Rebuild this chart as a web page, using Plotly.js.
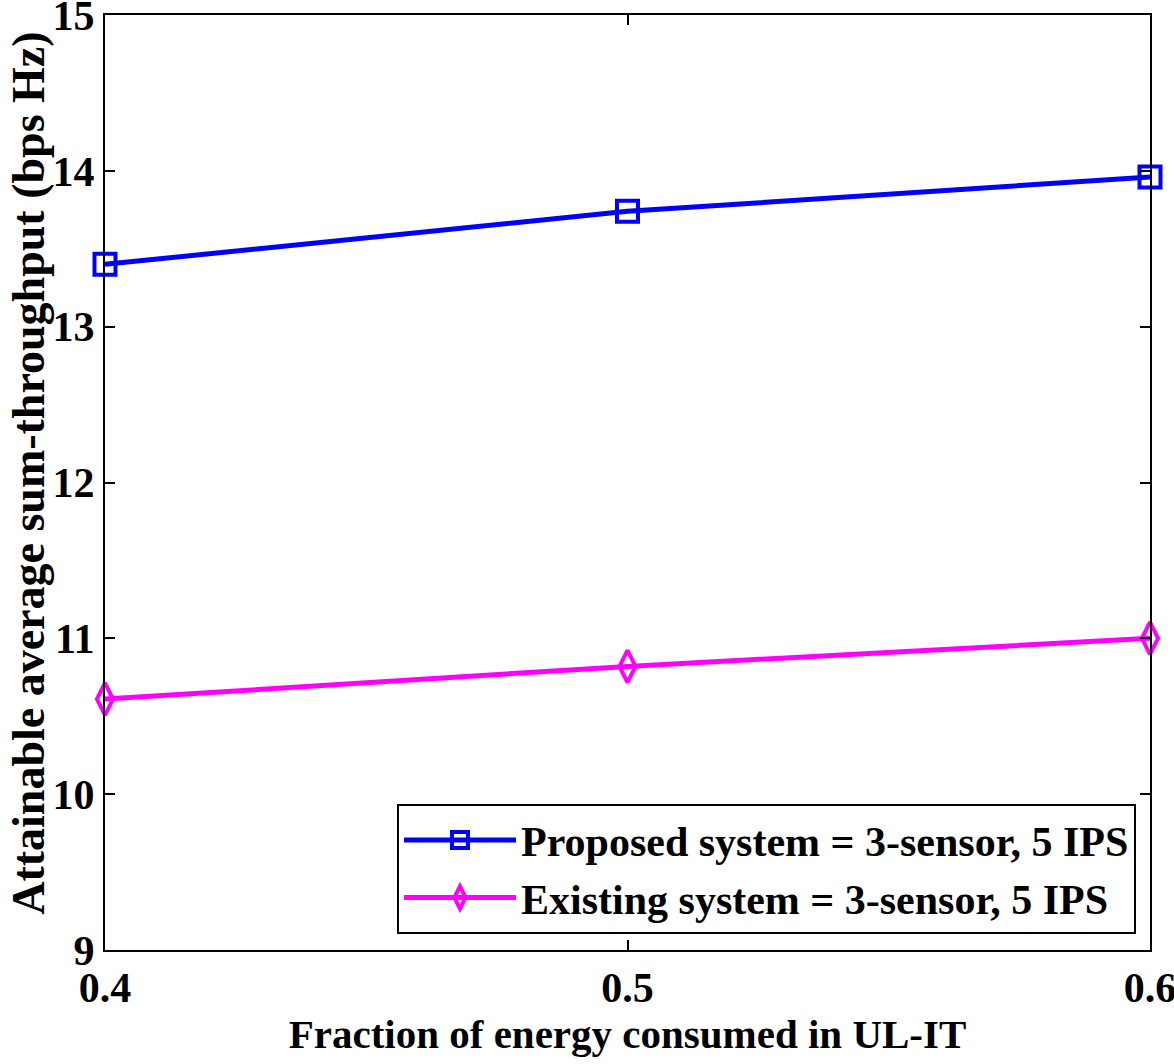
<!DOCTYPE html>
<html>
<head>
<meta charset="utf-8">
<script src="https://cdn.plot.ly/plotly-3.0.1.min.js"></script>
<style>html,body{margin:0;padding:0;background:#fff;}#chart{width:1174px;height:1064px;}</style>
</head>
<body>
<div id="chart"></div>
<script>
const energyFraction = [0.4, 0.5, 0.6];
const proposedThroughput = [13.40, 13.74, 13.96];
const existingThroughput = [10.61, 10.82, 11.00];
const seriesNames = ['Proposed system = 3-sensor, 5 IPS', 'Existing system = 3-sensor, 5 IPS'];
const xTickValues = [0.4, 0.5, 0.6];
const yTickValues = [9, 10, 11, 12, 13, 14, 15];
const xTitle = 'Fraction of energy consumed in UL-IT';
const yTitle = 'Attainable average sum-throughput (bps Hz)';

const serif = 'Liberation Serif, serif';

const traces = [
  {
    x: energyFraction, y: proposedThroughput, name: seriesNames[0],
    type: 'scatter', mode: 'lines+markers', cliponaxis: false,
    line: {color: '#0000FF', width: 5},
    marker: {symbol: 'square-open', size: 21, color: '#0000FF', line: {width: 4, color: '#0000FF'}}
  },
  {
    x: energyFraction, y: existingThroughput, name: seriesNames[1],
    type: 'scatter', mode: 'lines+markers', cliponaxis: false,
    line: {color: '#FF00FF', width: 5},
    marker: {symbol: 'diamond-tall-open', size: 23, color: '#FF00FF', line: {width: 4, color: '#FF00FF'}}
  }
];

const axisCommon = {
  showline: true, mirror: 'ticks', linecolor: '#000', linewidth: 2,
  ticks: 'inside', ticklen: 10, tickwidth: 2, tickcolor: '#000',
  showgrid: false, zeroline: false, ticklabeloverflow: 'allow',
  tickfont: {family: serif, size: 42, color: '#000', weight: 'bold'}
};

const layout = {
  width: 1174, height: 1064,
  margin: {l: 105, r: 24, t: 15, b: 114},
  paper_bgcolor: '#fff', plot_bgcolor: '#fff',
  showlegend: true,
  xaxis: Object.assign({}, axisCommon, {
    range: [0.4, 0.6], tickmode: 'array', tickvals: xTickValues,
    ticktext: xTickValues.map(v => v.toFixed(1)),
    title: {text: xTitle, standoff: 4,
      font: {family: serif, size: 41, color: '#000', weight: 'bold'}}
  }),
  yaxis: Object.assign({}, axisCommon, {
    range: [9, 15], tickmode: 'array', tickvals: yTickValues,
    ticktext: yTickValues.map(v => String(v))
  }),
  annotations: [{
    xref: 'paper', yref: 'paper', x: -0.074, y: 0.51, xanchor: 'center', yanchor: 'middle',
    textangle: -90, showarrow: false, text: yTitle,
    font: {family: serif, size: 46, color: '#000', weight: 'bold'}
  }],
  legend: {
    x: 0.9866, y: 0.017, xanchor: 'right', yanchor: 'bottom',
    bgcolor: '#fff', bordercolor: '#000', borderwidth: 2,
    font: {family: serif, size: 42, color: '#000', weight: 'bold'},
    itemwidth: 112, tracegroupgap: 0
  }
};

Plotly.newPlot('chart', traces, layout, {displayModeBar: false, staticPlot: true});
</script>
</body>
</html>
